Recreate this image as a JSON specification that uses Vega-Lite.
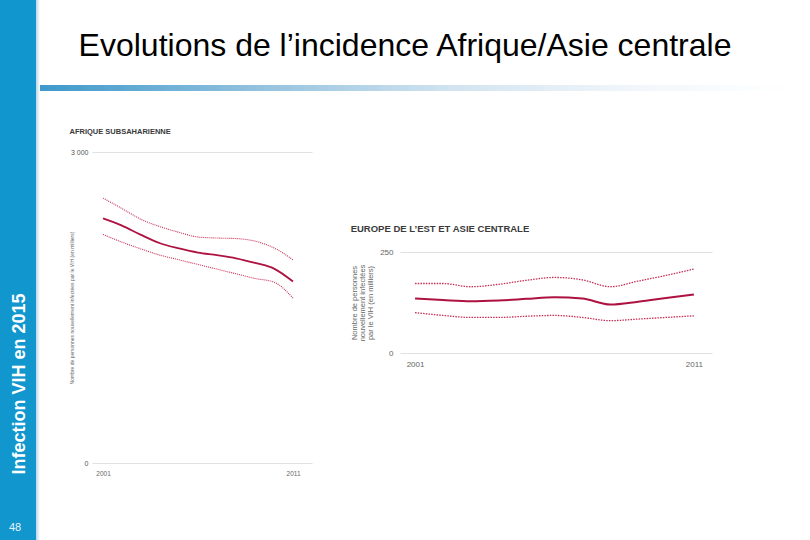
{
  "$schema": "https://vega.github.io/schema/vega-lite/v6.json",
  "padding": 0,
  "background": "white",
  "bounds": "flush",
  "spacing": 0,
  "config": {
    "view": {"stroke": null},
    "font": "Liberation Sans",
    "title": {"font": "Liberation Sans"},
    "axis": {"labelFont": "Liberation Sans", "titleFont": "Liberation Sans"}
  },
  "datasets": {
    "side": [
      {"label": "Infection VIH en 2015", "kind": "titre", "px": 0.555, "py": 0.289},
      {"label": "48", "kind": "page", "px": 0.42, "py": 0.022}
    ],
    "hiv": [
      {"region": "Afrique", "series": "estimation", "year": 2001, "value": 2360},
      {"region": "Afrique", "series": "estimation", "year": 2002, "value": 2290},
      {"region": "Afrique", "series": "estimation", "year": 2003, "value": 2200},
      {"region": "Afrique", "series": "estimation", "year": 2004, "value": 2120},
      {"region": "Afrique", "series": "estimation", "year": 2005, "value": 2070},
      {"region": "Afrique", "series": "estimation", "year": 2006, "value": 2030},
      {"region": "Afrique", "series": "estimation", "year": 2007, "value": 2005},
      {"region": "Afrique", "series": "estimation", "year": 2008, "value": 1975},
      {"region": "Afrique", "series": "estimation", "year": 2009, "value": 1930},
      {"region": "Afrique", "series": "estimation", "year": 2010, "value": 1875},
      {"region": "Afrique", "series": "estimation", "year": 2011, "value": 1750},
      {"region": "Afrique", "series": "haut", "year": 2001, "value": 2555},
      {"region": "Afrique", "series": "haut", "year": 2002, "value": 2455},
      {"region": "Afrique", "series": "haut", "year": 2003, "value": 2350},
      {"region": "Afrique", "series": "haut", "year": 2004, "value": 2280},
      {"region": "Afrique", "series": "haut", "year": 2005, "value": 2225},
      {"region": "Afrique", "series": "haut", "year": 2006, "value": 2180},
      {"region": "Afrique", "series": "haut", "year": 2007, "value": 2170},
      {"region": "Afrique", "series": "haut", "year": 2008, "value": 2165},
      {"region": "Afrique", "series": "haut", "year": 2009, "value": 2140},
      {"region": "Afrique", "series": "haut", "year": 2010, "value": 2075},
      {"region": "Afrique", "series": "haut", "year": 2011, "value": 1960},
      {"region": "Afrique", "series": "bas", "year": 2001, "value": 2205},
      {"region": "Afrique", "series": "bas", "year": 2002, "value": 2130},
      {"region": "Afrique", "series": "bas", "year": 2003, "value": 2065},
      {"region": "Afrique", "series": "bas", "year": 2004, "value": 2005},
      {"region": "Afrique", "series": "bas", "year": 2005, "value": 1960},
      {"region": "Afrique", "series": "bas", "year": 2006, "value": 1915},
      {"region": "Afrique", "series": "bas", "year": 2007, "value": 1870},
      {"region": "Afrique", "series": "bas", "year": 2008, "value": 1825},
      {"region": "Afrique", "series": "bas", "year": 2009, "value": 1780},
      {"region": "Afrique", "series": "bas", "year": 2010, "value": 1745},
      {"region": "Afrique", "series": "bas", "year": 2011, "value": 1590},
      {"region": "Europe", "series": "estimation", "year": 2001, "value": 135},
      {"region": "Europe", "series": "estimation", "year": 2002, "value": 131},
      {"region": "Europe", "series": "estimation", "year": 2003, "value": 128},
      {"region": "Europe", "series": "estimation", "year": 2004, "value": 130},
      {"region": "Europe", "series": "estimation", "year": 2005, "value": 134},
      {"region": "Europe", "series": "estimation", "year": 2006, "value": 138},
      {"region": "Europe", "series": "estimation", "year": 2007, "value": 135},
      {"region": "Europe", "series": "estimation", "year": 2008, "value": 120},
      {"region": "Europe", "series": "estimation", "year": 2009, "value": 127},
      {"region": "Europe", "series": "estimation", "year": 2010, "value": 136},
      {"region": "Europe", "series": "estimation", "year": 2011, "value": 145},
      {"region": "Europe", "series": "haut", "year": 2001, "value": 172},
      {"region": "Europe", "series": "haut", "year": 2002, "value": 172},
      {"region": "Europe", "series": "haut", "year": 2003, "value": 164},
      {"region": "Europe", "series": "haut", "year": 2004, "value": 170},
      {"region": "Europe", "series": "haut", "year": 2005, "value": 180},
      {"region": "Europe", "series": "haut", "year": 2006, "value": 187},
      {"region": "Europe", "series": "haut", "year": 2007, "value": 181},
      {"region": "Europe", "series": "haut", "year": 2008, "value": 164},
      {"region": "Europe", "series": "haut", "year": 2009, "value": 178},
      {"region": "Europe", "series": "haut", "year": 2010, "value": 192},
      {"region": "Europe", "series": "haut", "year": 2011, "value": 208},
      {"region": "Europe", "series": "bas", "year": 2001, "value": 100},
      {"region": "Europe", "series": "bas", "year": 2002, "value": 93},
      {"region": "Europe", "series": "bas", "year": 2003, "value": 88},
      {"region": "Europe", "series": "bas", "year": 2004, "value": 88},
      {"region": "Europe", "series": "bas", "year": 2005, "value": 91},
      {"region": "Europe", "series": "bas", "year": 2006, "value": 93},
      {"region": "Europe", "series": "bas", "year": 2007, "value": 88},
      {"region": "Europe", "series": "bas", "year": 2008, "value": 80},
      {"region": "Europe", "series": "bas", "year": 2009, "value": 84},
      {"region": "Europe", "series": "bas", "year": 2010, "value": 88},
      {"region": "Europe", "series": "bas", "year": 2011, "value": 92}
    ]
  },
  "hconcat": [
    {
      "width": 36,
      "height": 540,
      "view": {"fill": "#1196ce", "stroke": null},
      "data": {"name": "side"},
      "encoding": {
        "x": {"field": "px", "type": "quantitative", "scale": {"domain": [0, 1], "nice": false}, "axis": null},
        "y": {"field": "py", "type": "quantitative", "scale": {"domain": [0, 1], "nice": false}, "axis": null},
        "text": {"field": "label"}
      },
      "layer": [
        {
          "transform": [{"filter": "datum.kind == 'titre'"}],
          "mark": {"type": "text", "angle": 270, "align": "center", "baseline": "middle", "fontSize": 18, "fontWeight": "bold", "color": "#ffffff"}
        },
        {
          "transform": [{"filter": "datum.kind == 'page'"}],
          "mark": {"type": "text", "align": "center", "baseline": "middle", "fontSize": 11, "color": "#e6f3fa"}
        }
      ]
    },
    {
      "width": 4,
      "height": 540,
      "data": {"values": [{"band": "bord"}]},
      "mark": {"type": "rect", "color": {"gradient": "linear", "x1": 0, "x2": 1, "y1": 0, "y2": 0, "stops": [{"offset": 0, "color": "#b9d6ec"}, {"offset": 1, "color": "#ffffff"}]}},
      "encoding": {}
    },
    {
      "vconcat": [
        {
          "width": 754,
          "height": 85,
          "data": {"values": []},
          "mark": "point",
          "encoding": {}
        },
        {
          "width": 754,
          "height": 6,
          "title": {"text": "Evolutions de l’incidence Afrique/Asie centrale", "fontSize": 32, "fontWeight": "normal", "color": "#000000", "anchor": "middle", "offset": 22, "dx": -12},
          "data": {"values": [{"band": "separateur"}]},
          "mark": {"type": "rect", "color": {"gradient": "linear", "x1": 0, "x2": 1, "y1": 0, "y2": 0, "stops": [{"offset": 0, "color": "#3d99cb"}, {"offset": 0.3, "color": "#96c3df"}, {"offset": 0.55, "color": "#d2e4f0"}, {"offset": 0.8, "color": "#f3f7fb"}, {"offset": 1, "color": "#ffffff"}]}},
          "encoding": {}
        },
        {
          "width": 754,
          "height": 61,
          "data": {"values": []},
          "mark": "point",
          "encoding": {}
        },
        {
          "hconcat": [
            {
              "width": 52,
              "height": 311,
              "data": {"values": []},
              "mark": "point",
              "encoding": {}
            },
            {
              "width": 220,
              "height": 311,
              "title": {"text": "AFRIQUE SUBSAHARIENNE", "anchor": "start", "frame": "bounds", "fontSize": 7.5, "fontWeight": "bold", "color": "#3a3a3a", "offset": 13},
              "data": {"name": "hiv"},
              "transform": [{"filter": "datum.region == 'Afrique'"}],
              "encoding": {
                "x": {"field": "year", "type": "quantitative", "scale": {"domain": [2000.42, 2012], "nice": false, "zero": false},
                  "axis": {"values": [2001, 2011], "format": "d", "domain": false, "ticks": false, "grid": false, "labelFontSize": 6.5, "labelColor": "#666666", "labelPadding": 7, "title": null}},
                "y": {"field": "value", "type": "quantitative", "scale": {"domain": [0, 3000], "nice": false},
                  "axis": {"values": [0, 3000], "labelExpr": "datum.value == 3000 ? '3 000' : '0'", "domain": false, "ticks": false, "grid": true, "gridColor": "#d9d9d9", "gridWidth": 0.8, "labelFontSize": 7, "labelColor": "#555555", "labelPadding": 4, "title": "Nombre de personnes nouvellement infectées par le VIH (en milliers)", "titleFontSize": 5, "titleFontWeight": "normal", "titleColor": "#666666", "titlePadding": -4}}
              },
              "layer": [
                {
                  "transform": [{"filter": "datum.series == 'estimation'"}],
                  "mark": {"type": "line", "interpolate": "monotone", "color": "#ad1240", "strokeWidth": 1.8}
                },
                {
                  "transform": [{"filter": "datum.series != 'estimation'"}],
                  "mark": {"type": "line", "interpolate": "monotone", "color": "#c62e55", "strokeWidth": 1.1, "strokeDash": [1, 1]},
                  "encoding": {"detail": {"field": "series"}}
                }
              ]
            },
            {
              "width": 88,
              "height": 311,
              "data": {"values": []},
              "mark": "point",
              "encoding": {}
            },
            {
              "vconcat": [
                {
                  "width": 312,
                  "height": 100,
                  "data": {"values": []},
                  "mark": "point",
                  "encoding": {}
                },
                {
                  "width": 312,
                  "height": 101,
                  "title": {"text": "EUROPE DE L’EST ET ASIE CENTRALE", "anchor": "start", "frame": "bounds", "fontSize": 9.5, "fontWeight": "bold", "color": "#3a3a3a", "offset": 15},
                  "data": {"name": "hiv"},
                  "transform": [{"filter": "datum.region == 'Europe'"}],
                  "encoding": {
                    "x": {"field": "year", "type": "quantitative", "scale": {"domain": [2000.46, 2011.65], "nice": false, "zero": false},
                      "axis": {"values": [2001, 2011], "format": "d", "domain": false, "ticks": false, "grid": false, "labelFontSize": 8, "labelColor": "#666666", "labelPadding": 7, "title": null}},
                    "y": {"field": "value", "type": "quantitative", "scale": {"domain": [0, 250], "nice": false},
                      "axis": {"values": [0, 250], "format": "d", "domain": false, "ticks": false, "grid": true, "gridColor": "#d9d9d9", "gridWidth": 0.8, "labelFontSize": 8, "labelColor": "#666666", "labelPadding": 7, "title": ["Nombre de personnes", "nouvellement infectées", "par le VIH (en milliers)"], "titleFontSize": 7.5, "titleLineHeight": 8, "titleFontWeight": "normal", "titleColor": "#666666", "titlePadding": 5}}
                  },
                  "layer": [
                    {
                      "transform": [{"filter": "datum.series == 'estimation'"}],
                      "mark": {"type": "line", "interpolate": "monotone", "color": "#ad1240", "strokeWidth": 2}
                    },
                    {
                      "transform": [{"filter": "datum.series != 'estimation'"}],
                      "mark": {"type": "line", "interpolate": "monotone", "color": "#c62e55", "strokeWidth": 1.3, "strokeDash": [1.5, 1.2]},
                      "encoding": {"detail": {"field": "series"}}
                    }
                  ]
                }
              ],
              "spacing": 0,
              "bounds": "flush"
            }
          ],
          "spacing": 0,
          "bounds": "flush"
        }
      ],
      "spacing": 0,
      "bounds": "flush"
    }
  ]
}
